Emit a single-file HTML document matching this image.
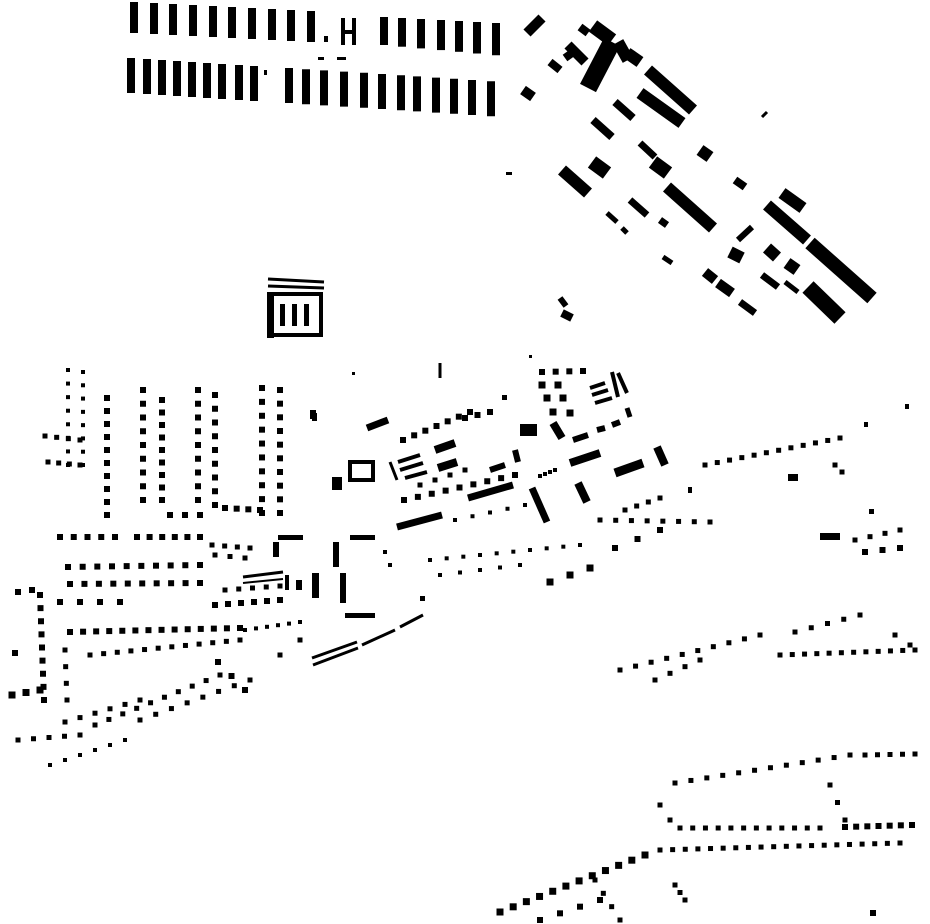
<!DOCTYPE html>
<html><head><meta charset="utf-8"><style>html,body{margin:0;padding:0;background:#fff}svg{display:block}</style></head>
<body>
<svg id="s" xmlns="http://www.w3.org/2000/svg" width="930" height="924" viewBox="0 0 930 924">
<rect width="930" height="924" fill="#fff"/>
<g fill="none" stroke="#000" stroke-width="4"><rect x="350" y="462" width="23" height="18"/><rect x="270" y="294" width="51" height="41"/></g>
</svg>
<script>
var s=document.getElementById('s'),NS='http://www.w3.org/2000/svg';
function R(x,y,w,h){var e=document.createElementNS(NS,'rect');e.setAttribute('x',x);e.setAttribute('y',y);e.setAttribute('width',w);e.setAttribute('height',h);e.setAttribute('fill','#000');s.appendChild(e);}
function L(a,b,c,d,w){var e=document.createElementNS(NS,'line');e.setAttribute('x1',a);e.setAttribute('y1',b);e.setAttribute('x2',c);e.setAttribute('y2',d);e.setAttribute('stroke','#000');e.setAttribute('stroke-width',w);s.appendChild(e);}
function D(a,b,c,d,n,z){z=z||5;for(var i=0;i<n;i++){var t=n>1?i/(n-1):0;R(a+(c-a)*t-z/2,b+(d-b)*t-z/2,z,z);}}
// top rows
var r1=[130,150,169,189,209,228,248,268,287,307];r1.forEach(function(x,i){L(x+4,2+i,x+4,33+i,8)});
R(324,36,4,6);R(341,18,4,27);R(352,18,4,27);R(341,30,15,4);
[380,398,417,437,455,473,492].forEach(function(x,i){L(x+4,17+i,x+4,45+i*1.7,8)});
[127,143,158,173,188,203,218,235,250].forEach(function(x,i){L(x+4,58+i,x+4,93+i,8)});
R(264,70,3,5);R(318,57,6,3);R(337,57,9,3);
[285,302,320,340,360,378,397,413,432,450,468,487].forEach(function(x,i){L(x+4,68+i*1.2,x+4,103+i*1.2,8)});
// diagonal cluster
[[648,70,693,110,12],[640,93,682,123,12],[612,42,588,88,18],[667,187,713,228,12],[767,205,807,240,12],[810,243,872,298,14],[615,102,633,118,8],[593,120,612,137,8],[640,143,655,157,7],[562,170,588,193,12],[592,162,607,173,14],[653,162,668,173,14],[700,150,710,157,12],[735,180,745,187,8],[630,200,647,215,7],[607,213,617,222,5],[622,228,627,233,5],[660,220,667,225,7],[663,257,672,263,5],[738,240,752,227,6],[730,252,742,258,12],[767,248,777,257,12],[787,263,797,270,12],[705,272,715,280,10],[718,283,732,293,10],[740,302,755,313,7],[762,275,778,287,7],[785,282,798,292,5],[808,287,840,318,16],[782,193,803,208,12],[527,33,542,18,10],[580,27,588,33,8],[627,53,640,62,12],[550,62,560,70,8],[523,90,533,97,10],[568,45,585,62,10],[572,53,565,58,8],[762,117,767,112,3],[593,26,612,40,14],[618,42,628,60,12]].forEach(function(a){L(a[0],a[1],a[2],a[3],a[4])});
R(506,172,6,3);L(560,298,566,306,6);L(562,313,572,318,8);
// stadium building
L(268,279,324,282,3);L(268,286,324,288,3);R(267,292,7,46);R(280,304,5,22);R(292,304,5,22);R(304,304,5,22);
// center
L(440,363,440,378,3);R(312,413,5,8);L(367,428,388,420,7);R(332,477,10,13);
L(398,462,420,455,4);L(400,470,423,463,4);L(405,478,427,472,4);L(390,462,397,480,3);
L(435,450,455,443,8);L(438,468,457,462,8);L(397,527,442,515,7);L(468,498,513,485,7);L(490,470,505,465,6);L(515,450,518,462,6);
R(520,424,17,12);L(532,488,547,522,7);L(578,483,587,502,8);L(570,463,600,453,8);L(615,473,643,463,9);L(657,447,665,465,8);
L(573,440,588,435,6);L(597,430,605,428,6);L(612,425,620,422,6);L(627,408,630,417,5);
L(590,388,605,383,4);L(592,395,608,390,4);L(595,403,612,398,4);L(612,372,618,397,4);L(618,373,627,393,4);
D(542,372,583,371,4,6);D(542,385,558,385,2,7);D(547,398,563,398,2,7);D(553,412,570,413,2,7);L(553,423,562,438,8);
R(529,355,3,3);R(502,395,5,5);R(352,372,3,3);
R(333,542,6,25);R(312,573,7,25);R(340,573,6,30);R(345,613,30,5);R(350,535,25,5);R(278,535,25,5);
L(312,658,357,642,3);L(313,665,358,648,3);L(362,645,395,630,3);L(400,627,423,615,3);
L(243,577,283,572,3);L(243,583,283,579,2);R(285,575,4,15);R(296,580,6,10);
D(403,440,470,412,7,6);D(404,500,515,475,9,6);D(420,485,465,470,4,5);D(465,418,490,412,3,6);D(540,476,555,470,4,4);
// mid scatter
D(430,560,580,545,10,4);D(440,575,520,565,5,4);D(455,520,525,505,5,4);D(600,520,710,522,8,5);D(550,582,590,568,3,7);D(615,548,660,530,3,6);D(625,510,660,498,4,5);R(688,487,4,6);R(420,596,5,5);D(385,552,390,565,2,4);
// left dots columns
D(68,370,68,465,8,4);D(83,372,83,465,8,4);D(107,398,107,515,10,6);D(143,390,143,500,9,6);D(162,400,162,500,9,6);D(198,390,198,500,9,6);D(215,395,215,505,9,6);D(262,388,262,513,10,6);D(280,390,280,513,10,6);
D(45,436,80,440,4,5);D(48,462,80,465,4,5);D(170,515,200,515,3,6);D(225,508,260,510,4,6);R(310,410,6,9);
D(60,537,115,537,5,6);D(137,537,200,537,6,6);D(212,545,250,548,4,5);D(215,555,245,558,3,5);R(273,542,6,15);
D(68,567,200,565,10,6);D(70,584,200,583,10,6);D(60,602,120,602,4,6);D(215,605,280,600,6,6);D(225,590,280,586,5,5);
D(70,632,240,628,14,6);D(90,655,240,640,12,5);D(245,630,300,622,6,4);
D(18,592,32,590,2,6);D(40,595,44,700,9,6);D(65,650,67,700,4,5);D(15,653,15,653,1,6);
D(12,695,40,690,3,7);D(18,740,80,735,5,5);D(50,765,125,740,6,4);D(65,722,140,700,6,5);D(95,725,220,675,10,5);D(140,720,250,680,8,5);D(218,662,245,690,3,6);D(280,655,300,640,2,5);
// right upper
D(705,465,840,438,12,5);D(835,465,842,472,2,5);R(788,474,10,7);R(864,422,4,5);R(905,404,4,5);
R(820,533,20,7);D(855,540,900,530,4,5);D(865,552,900,548,3,6);R(869,509,5,5);
// lower right
D(620,670,760,635,10,5);D(655,680,700,660,4,5);D(780,655,915,650,12,5);D(795,632,860,615,5,5);D(895,635,910,645,2,5);
D(675,783,850,755,12,5);D(865,755,915,754,5,5);D(660,805,670,820,2,5);D(830,785,845,820,3,5);
D(680,828,820,828,12,5);D(845,827,912,825,7,6);D(660,850,900,843,20,5);
D(500,912,645,855,12,7);D(540,920,600,900,4,6);D(595,880,620,920,4,5);D(675,885,685,900,3,5);R(870,910,6,6);
</script>
</body></html>
